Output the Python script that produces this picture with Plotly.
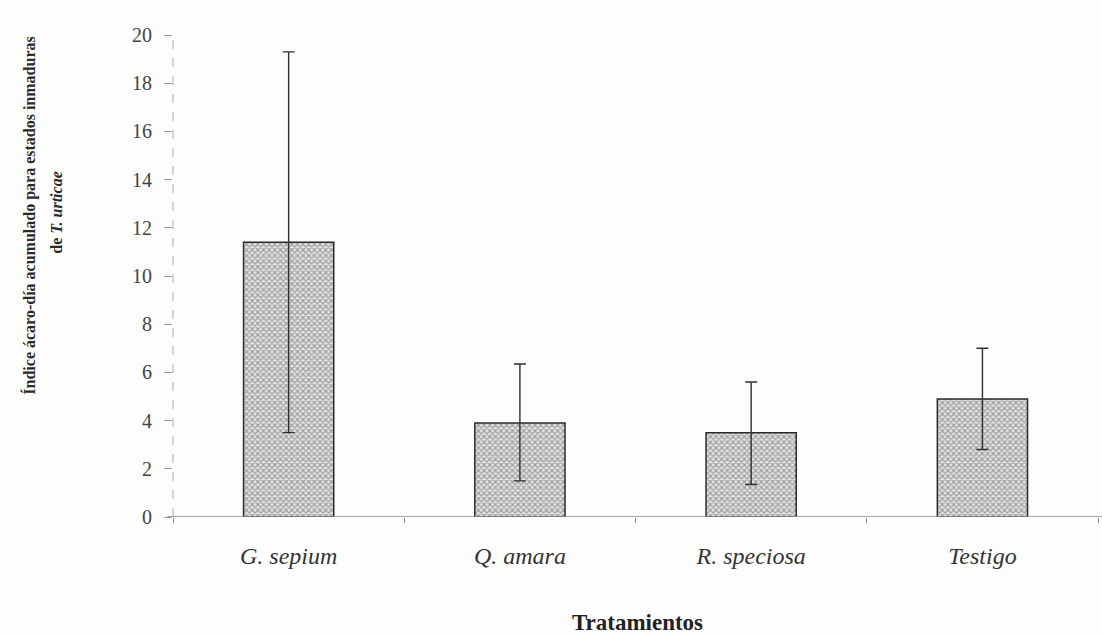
import plotly.graph_objects as go

categories = ["G. sepium", "Q. amara", "R. speciosa", "Testigo"]
means = [11.4, 3.9, 3.5, 4.9]
err_plus = [7.9, 2.45, 2.1, 2.1]
err_minus = [7.9, 2.4, 2.15, 2.1]
y_ticks = [0, 2, 4, 6, 8, 10, 12, 14, 16, 18, 20]

tick_text = [f"<i>{c}</i>" for c in categories]

fig = go.Figure()
fig.add_trace(go.Bar(
    x=categories,
    y=means,
    width=0.39,
    marker=dict(
        color="#e0e0e0",
        line=dict(color="#2a2a2a", width=1.5),
        pattern=dict(shape="x", fgcolor="#555555", bgcolor="#e4e4e4", size=4, solidity=0.5),
    ),
    error_y=dict(
        type="data", symmetric=False, array=err_plus, arrayminus=err_minus,
        color="#2f2f2f", thickness=1.4, width=6,
    ),
    showlegend=False,
))

serif = "Liberation Serif, Times New Roman, serif"

fig.update_layout(
    width=1102, height=635,
    margin=dict(l=173, r=0, t=35, b=118),
    paper_bgcolor="#fdfdfd",
    plot_bgcolor="#fdfdfd",
    bargap=0.61,
    font=dict(family=serif, color="#333333"),
    xaxis=dict(
        range=[-0.5, 3.517],
        tickmode="array", tickvals=categories, ticktext=tick_text,
        tickson="boundaries",
        ticks="outside", ticklen=5, tickcolor="#888888", tickwidth=1,
        ticklabelstandoff=22,
        showline=False, showgrid=False, zeroline=False,
        tickfont=dict(family=serif, size=24, color="#333333"),
        title=dict(text="<b>Tratamientos</b>", font=dict(family=serif, size=23, color="#222222"), standoff=45),
    ),
    yaxis=dict(
        range=[0, 20],
        tickmode="array", tickvals=y_ticks,
        ticks="outside", ticklen=8, tickcolor="#999999", tickwidth=1,
        ticklabelstandoff=8,
        showline=False, showgrid=False, zeroline=False,
        tickfont=dict(family=serif, size=20, color="#444444"),
    ),
)

# dashed vertical axis line and solid baseline
fig.add_shape(type="line", xref="paper", yref="paper", x0=0, x1=0, y0=0, y1=1,
              line=dict(color="#aaaaaa", width=1, dash="dash"))
fig.add_shape(type="line", xref="paper", yref="y", x0=-0.006, x1=1, y0=0, y1=0,
              line=dict(color="#888888", width=1.3))

fig.add_annotation(
    text="<b>Índice ácaro-día acumulado para estados inmaduras</b>",
    xref="paper", yref="paper", x=-0.154, y=0.625, showarrow=False,
    textangle=-90, font=dict(family=serif, size=16, color="#2a2a2a"),
    xanchor="center", yanchor="middle",
)
fig.add_annotation(
    text="<b>de <i>T. urticae</i></b>",
    xref="paper", yref="paper", x=-0.125, y=0.633, showarrow=False,
    textangle=-90, font=dict(family=serif, size=16, color="#2a2a2a"),
    xanchor="center", yanchor="middle",
)

fig.write_html("out.html")
